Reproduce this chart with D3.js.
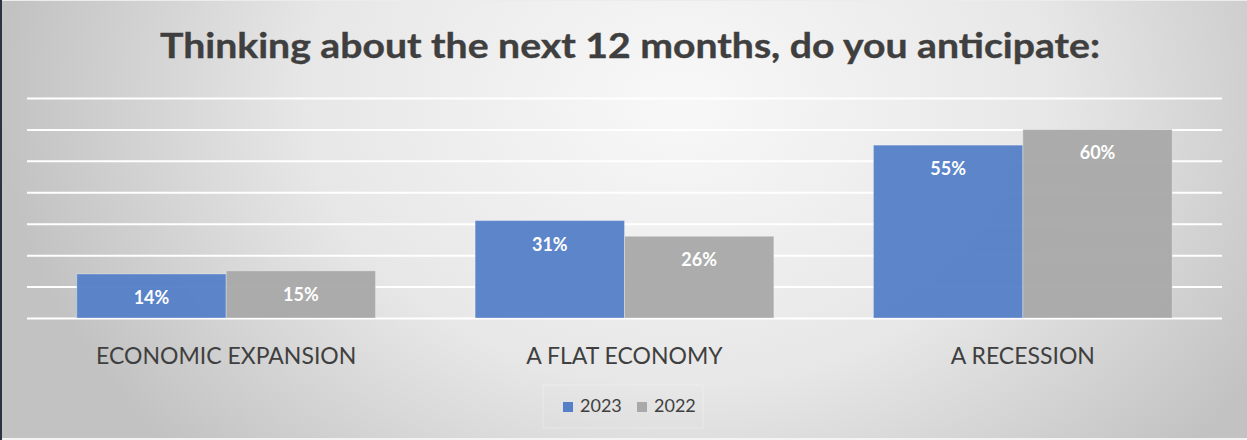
<!DOCTYPE html>
<html>
<head>
<meta charset="utf-8">
<script src="https://cdn.jsdelivr.net/npm/d3@7"></script>
<style>
  html, body { margin: 0; padding: 0; background: #d0d0d0; }
  svg { display: block; }
</style>
</head>
<body>
<svg id="chart" width="1247" height="440"></svg>
<script>
// Survey: economic outlook for the next 12 months
const categories = ["ECONOMIC EXPANSION", "A FLAT ECONOMY", "A RECESSION"];
const seriesNames = ["2023", "2022"];
const values2023 = [14, 31, 55];
const values2022 = [15, 26, 60];
const yTicks = [0, 10, 20, 30, 40, 50, 60, 70];
const titleText = "Thinking about the next 12 months, do you anticipate:";

const W = 1247, H = 440;
const plot = { left: 27, right: 1222, top: 98, bottom: 318 };
const colors = { "2023": "#5580c8", "2022": "#a9a9a9" };
const textColor = "#3f3f3f";
const font = "Lato, 'Open Sans', sans-serif";

const svg = d3.select("#chart");
const defs = svg.append("defs");

// soft radial backdrop: bright centre, grey edges
const grad = defs.append("radialGradient")
  .attr("id", "bg")
  .attr("gradientUnits", "userSpaceOnUse")
  .attr("cx", 0).attr("cy", 0).attr("r", 1)
  .attr("gradientTransform", "translate(680,100) scale(680,520)");
grad.append("stop").attr("offset", 0).attr("stop-color", "#f8f8f8");
grad.append("stop").attr("offset", 0.55).attr("stop-color", "#e7e7e7");
grad.append("stop").attr("offset", 1).attr("stop-color", "#c2c2c2");

svg.append("rect").attr("width", W).attr("height", H).attr("fill", "url(#bg)");
// frame edges
svg.append("rect").attr("x", 0).attr("y", H - 2).attr("width", W).attr("height", 2).attr("fill", "#f4f4f4");
svg.append("rect").attr("x", 0).attr("y", 0).attr("width", W).attr("height", 1).attr("fill", "#ececec");
svg.append("rect").attr("x", 0).attr("y", 0).attr("width", 2).attr("height", H).attr("fill", "#2c3240");

// title
svg.append("text")
  .attr("x", 630).attr("y", 58)
  .attr("text-anchor", "middle")
  .attr("font-family", font).attr("font-weight", 700)
  .attr("font-size", 35)
  .attr("fill", textColor)
  .attr("stroke", textColor).attr("stroke-width", 0.4)
  .attr("textLength", 940).attr("lengthAdjust", "spacingAndGlyphs")
  .text(titleText);

// scales
const x0 = d3.scaleBand()
  .domain(categories)
  .range([plot.left, plot.right])
  .paddingInner(0.25)
  .paddingOuter(0.125);
const x1 = d3.scaleBand()
  .domain(seriesNames)
  .range([0, x0.bandwidth()]);
const y = d3.scaleLinear()
  .domain([0, 70])
  .range([plot.bottom, plot.top]);

// gridlines via axis
const grid = svg.append("g")
  .attr("transform", `translate(${plot.left},0)`)
  .call(d3.axisLeft(y).tickValues(yTicks).tickSize(-(plot.right - plot.left)).tickFormat(""));
grid.select(".domain").remove();
grid.selectAll(".tick line").attr("stroke", "#ffffff").attr("stroke-width", 2);

// bars
const rows = categories.map((c, i) => ({
  category: c,
  items: [
    { series: "2023", value: values2023[i] },
    { series: "2022", value: values2022[i] }
  ]
}));

const groups = svg.append("g").selectAll("g")
  .data(rows).join("g")
  .attr("transform", d => `translate(${x0(d.category)},0)`);

groups.selectAll("rect")
  .data(d => d.items).join("rect")
  .attr("x", d => x1(d.series))
  .attr("y", d => y(d.value))
  .attr("width", x1.bandwidth())
  .attr("height", d => y(0) - y(d.value))
  .attr("fill", d => colors[d.series])
  .attr("fill-opacity", 0.96)
  .attr("stroke", "rgba(255,255,255,0.3)")
  .attr("stroke-width", 1);

groups.selectAll("text.val")
  .data(d => d.items).join("text")
  .attr("class", "val")
  .attr("x", d => x1(d.series) + x1.bandwidth() / 2)
  .attr("y", d => y(d.value) + 30)
  .attr("text-anchor", "middle")
  .attr("font-family", font).attr("font-weight", 700)
  .attr("font-size", 18)
  .attr("fill", "#ffffff")
  .text(d => d.value + "%");

// category axis labels
const xAxis = svg.append("g")
  .attr("transform", `translate(0,${plot.bottom})`)
  .call(d3.axisBottom(x0).tickSize(0).tickPadding(0));
xAxis.select(".domain").remove();
xAxis.selectAll(".tick text")
  .attr("y", 46).attr("dy", 0)
  .attr("font-family", font)
  .attr("font-size", 23)
  .attr("fill", textColor);

// legend
const legend = svg.append("g");
legend.append("rect")
  .attr("x", 543).attr("y", 385).attr("width", 160).attr("height", 43)
  .attr("fill", "none").attr("stroke", "rgba(255,255,255,0.3)").attr("stroke-width", 1);
const legendX = { "2023": 563, "2022": 637 };
seriesNames.forEach(s => {
  legend.append("rect")
    .attr("x", legendX[s]).attr("y", 402).attr("width", 10).attr("height", 10)
    .attr("fill", colors[s]);
  legend.append("text")
    .attr("x", legendX[s] + 17).attr("y", 412)
    .attr("font-family", font).attr("font-size", 18)
    .attr("fill", textColor)
    .text(s);
});
</script>
</body>
</html>
